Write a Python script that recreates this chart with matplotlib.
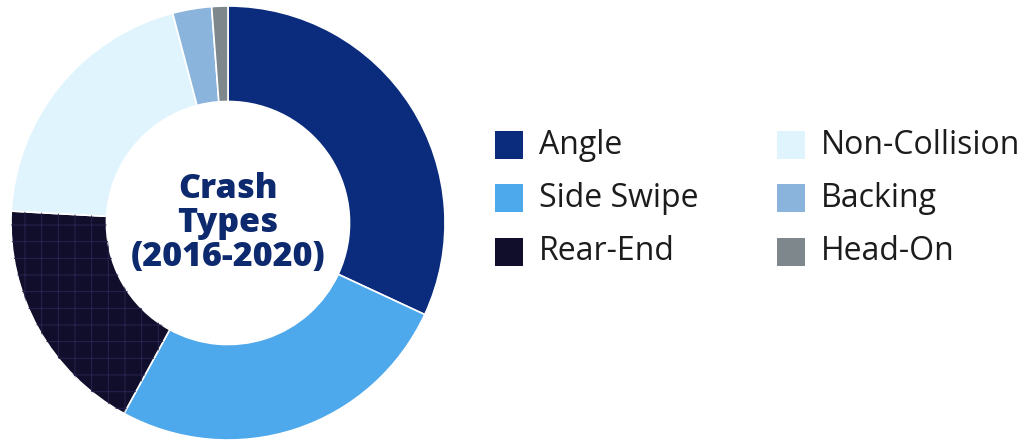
import matplotlib
matplotlib.use('Agg')
import matplotlib.pyplot as plt
from matplotlib.patches import Rectangle, Wedge

# crash type shares (percent)
labels = ['Angle', 'Side Swipe', 'Rear-End', 'Non-Collision', 'Backing', 'Head-On']
shares = [31.9, 26.0, 17.9, 20.0, 2.9, 1.2]
colors = ['#0b2c7c', '#4ea8ec', '#100e2b', '#e0f4fd', '#8bb4dc', '#7d878c']
center_title = 'Crash\nTypes\n(2016-2020)'

W, H = 1024, 441
fig = plt.figure(figsize=(W / 100, H / 100), dpi=100)

# donut, placed in pixel terms
cx, cy, r = 228, 223, 217
ax = fig.add_axes([(cx - r) / W, (H - cy - r) / H, 2 * r / W, 2 * r / H])
wedges, _ = ax.pie(shares, colors=colors, startangle=90, counterclock=False,
                   radius=1.0, wedgeprops=dict(width=0.44, edgecolor='white', linewidth=1.2))
# the rear-end slice has a faint grid texture
w = wedges[2]
plt.rcParams['hatch.linewidth'] = 0.7
ax.add_patch(Wedge(w.center, w.r, w.theta1, w.theta2, width=w.width,
                   facecolor='none', edgecolor='#272450', linewidth=0, hatch='+'))
ax.set_xlim(-1, 1)
ax.set_ylim(-1, 1)
ax.set_aspect('equal')
ax.axis('off')

ax.text(0, 0.0, center_title, ha='center', va='center', fontsize=24.5,
        fontweight='heavy', color='#0d2a6e', family='Open Sans', linespacing=1.0)

# legend, two columns of three
rows_y = [145, 198, 252]
cols_x = [495, 777]
sq = 28
for i, (lab, col) in enumerate(zip(labels, colors)):
    x0 = cols_x[i // 3]
    y0 = rows_y[i % 3]
    fig.patches.append(Rectangle((x0 / W, (H - y0 - sq / 2) / H), sq / W, sq / H,
                                 transform=fig.transFigure, facecolor=col, edgecolor='none'))
    fig.text((x0 + 44) / W, (H - y0) / H, lab, ha='left', va='center',
             fontsize=23, color='#1c1c1c', family='Open Sans')

fig.savefig('out.png', dpi=100, facecolor='white')
